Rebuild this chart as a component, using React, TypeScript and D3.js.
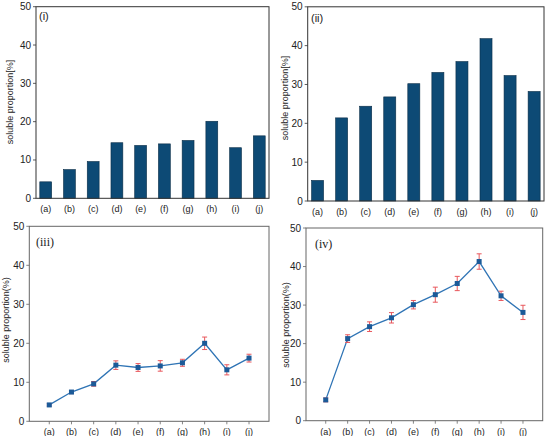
import * as d3 from 'd3'

const categories = ['(a)', '(b)', '(c)', '(d)', '(e)', '(f)', '(g)', '(h)', '(i)', '(j)']
const yTicks = [0, 10, 20, 30, 40, 50]

// panel (i) bars
const barsI = [4.3, 7.5, 9.6, 14.5, 13.8, 14.2, 15.1, 20.1, 13.2, 16.3]
// panel (ii) bars
const barsII = [5.3, 21.4, 24.4, 26.8, 30.2, 33.1, 35.9, 41.8, 32.3, 28.2]
// panel (iii) mean +- error
const lineIII = [4.2, 7.5, 9.6, 14.4, 13.8, 14.2, 15.0, 20.0, 13.2, 16.2]
const errIII = [0.3, 0.4, 0.6, 1.1, 1.0, 1.35, 0.9, 1.6, 1.3, 1.0]
// panel (iv) mean +- error
const lineIV = [5.4, 21.3, 24.4, 26.7, 30.1, 32.7, 35.6, 41.3, 32.4, 28.1]
const errIV = [0.5, 1.0, 1.25, 1.35, 1.1, 1.95, 1.85, 2.0, 1.2, 1.85]

const FONT = '"Liberation Sans", Arial, sans-serif'
const BAR_FILL = '#0d4a75'
const BAR_STROKE = '#0a2d47'
const LINE = '#2f74b5'
const MARK = '#1c5a98'
const ERR = '#e8575c'

interface Box { left: number; right: number; top: number; bottom: number }

function YAxis({ box, frame, labelX, labelY, label }: { box: Box; frame: string; labelX: number; labelY: number; label: string }) {
  const y = d3.scaleLinear().domain([0, 50]).range([box.bottom, box.top])
  return (
    <g>
      {yTicks.map(t => (
        <g key={t}>
          <line x1={box.left - 3} x2={box.left} y1={y(t)} y2={y(t)} stroke={frame} strokeWidth={0.8} />
          <text x={box.left - 5} y={y(t) + 3.5} textAnchor="end" fontSize={10} fill="#222" fontFamily={FONT}>{t}</text>
        </g>
      ))}
      <text transform={`translate(${labelX},${labelY}) rotate(-90)`} textAnchor="middle" fontSize={9} fill="#222" fontFamily={FONT}>{label}</text>
    </g>
  )
}

function BarPanel({ box, values, title, titleX, titleY, labelX, labelY }: { box: Box; values: number[]; title: string; titleX: number; titleY: number; labelX: number; labelY: number }) {
  const x = d3.scaleBand<string>().domain(categories).range([box.left, box.right]).paddingInner(0.5).paddingOuter(0.16)
  const y = d3.scaleLinear().domain([0, 50]).range([box.bottom, box.top])
  return (
    <g>
      {values.map((v, i) => (
        <rect key={i} x={x(categories[i])} y={y(v)} width={x.bandwidth()} height={y(0) - y(v)}
          fill={BAR_FILL} stroke={BAR_STROKE} strokeWidth={0.6} />
      ))}
      <rect x={box.left} y={box.top} width={box.right - box.left} height={box.bottom - box.top} fill="none" stroke="#333" strokeWidth={1} />
      <YAxis box={box} frame="#333" labelX={labelX} labelY={labelY} label="soluble proportion[%]" />
      {categories.map(c => (
        <text key={c} x={(x(c) ?? 0) + x.bandwidth() / 2} y={box.bottom + 14} textAnchor="middle" fontSize={9} fill="#222" fontFamily={FONT}>{c}</text>
      ))}
      <text x={titleX} y={titleY} fontSize={11} fill="#222" fontFamily={FONT}>{title}</text>
    </g>
  )
}

function LinePanel({ box, values, errors, title, titleX, titleY, labelX, labelY }: { box: Box; values: number[]; errors: number[]; title: string; titleX: number; titleY: number; labelX: number; labelY: number }) {
  const x = d3.scalePoint<string>().domain(categories).range([box.left, box.right]).padding(0.9)
  const y = d3.scaleLinear().domain([0, 50]).range([box.bottom, box.top])
  const line = d3.line<number>().x((_, i) => x(categories[i]) ?? 0).y(v => y(v))
  return (
    <g>
      <rect x={box.left} y={box.top} width={box.right - box.left} height={box.bottom - box.top} fill="none" stroke="#666" strokeWidth={1} />
      <YAxis box={box} frame="#666" labelX={labelX} labelY={labelY} label="soluble proportion(%)" />
      {categories.map(c => (
        <g key={c}>
          <line x1={x(c)} x2={x(c)} y1={box.bottom} y2={box.bottom + 3} stroke="#666" strokeWidth={0.8} />
          <text x={x(c)} y={box.bottom + 14} textAnchor="middle" fontSize={9} fill="#222" fontFamily={FONT}>{c}</text>
        </g>
      ))}
      <path d={line(values) ?? ''} fill="none" stroke={LINE} strokeWidth={1.3} />
      {values.map((v, i) => {
        const cx = x(categories[i]) ?? 0
        const lo = y(v - errors[i])
        const hi = y(v + errors[i])
        return (
          <g key={i}>
            <line x1={cx} x2={cx} y1={lo} y2={hi} stroke={ERR} strokeWidth={1} />
            <line x1={cx - 2.5} x2={cx + 2.5} y1={lo} y2={lo} stroke={ERR} strokeWidth={1} />
            <line x1={cx - 2.5} x2={cx + 2.5} y1={hi} y2={hi} stroke={ERR} strokeWidth={1} />
            <rect x={cx - 2.5} y={y(v) - 2.5} width={5} height={5} fill={MARK} />
          </g>
        )
      })}
      <text x={titleX} y={titleY} fontSize={12} fill="#222" fontFamily='"Liberation Serif", "Times New Roman", serif'>{title}</text>
    </g>
  )
}

export default function App() {
  return (
    <svg width={550} height={436} style={{ position: 'absolute', left: 0, top: 0, background: '#fff' }}>
      <BarPanel box={{ left: 36, right: 269, top: 6.7, bottom: 198.3 }} values={barsI} title="(i)" titleX={39} titleY={20} labelX={13} labelY={102} />
      <BarPanel box={{ left: 307.7, right: 544, top: 6.8, bottom: 201 }} values={barsII} title="(ii)" titleX={311} titleY={22} labelX={288} labelY={98} />
      <LinePanel box={{ left: 29.3, right: 269, top: 226.3, bottom: 421.3 }} values={lineIII} errors={errIII} title="(iii)" titleX={36} titleY={246} labelX={9} labelY={320} />
      <LinePanel box={{ left: 306, right: 542.7, top: 228, bottom: 420.7 }} values={lineIV} errors={errIV} title="(iv)" titleX={315} titleY={248} labelX={289} labelY={325} />
    </svg>
  )
}
